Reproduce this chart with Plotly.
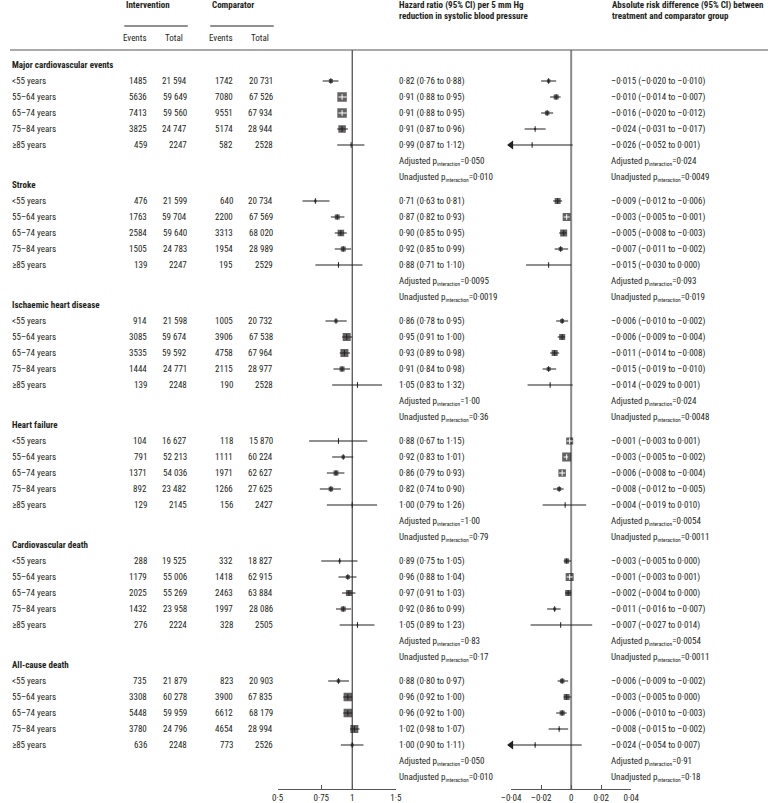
import math
import plotly.graph_objects as go

# ---- data ----
sections = ['Major cardiovascular events', 'Stroke', 'Ischaemic heart disease',
            'Heart failure', 'Cardiovascular death', 'All-cause death']
age_groups = ['&lt;55 years', '55–64 years', '65–74 years', '75–84 years', '≥85 years']

int_events = [[1485, 5636, 7413, 3825, 459], [476, 1763, 2584, 1505, 139],
              [914, 3085, 3535, 1444, 139], [104, 791, 1371, 892, 129],
              [288, 1179, 2025, 1432, 276], [735, 3308, 5448, 3780, 636]]
int_total = [[21594, 59649, 59560, 24747, 2247], [21599, 59704, 59640, 24783, 2247],
             [21598, 59674, 59592, 24771, 2248], [16627, 52213, 54036, 23482, 2145],
             [19525, 55006, 55269, 23958, 2224], [21879, 60278, 59959, 24796, 2248]]
cmp_events = [[1742, 7080, 9551, 5174, 582], [640, 2200, 3313, 1954, 195],
              [1005, 3906, 4758, 2115, 190], [118, 1111, 1971, 1266, 156],
              [332, 1418, 2463, 1997, 328], [823, 3900, 6612, 4654, 773]]
cmp_total = [[20731, 67526, 67934, 28944, 2528], [20734, 67569, 68020, 28989, 2529],
             [20732, 67538, 67964, 28977, 2528], [15870, 60224, 62627, 27625, 2427],
             [18827, 62915, 63884, 28086, 2505], [20903, 67835, 68179, 28994, 2526]]

hr = [[0.82, 0.91, 0.91, 0.91, 0.99], [0.71, 0.87, 0.90, 0.92, 0.88],
      [0.86, 0.95, 0.93, 0.91, 1.05], [0.88, 0.92, 0.86, 0.82, 1.00],
      [0.89, 0.96, 0.97, 0.92, 1.05], [0.88, 0.96, 0.96, 1.02, 1.00]]
hr_lo = [[0.76, 0.88, 0.88, 0.87, 0.87], [0.63, 0.82, 0.85, 0.85, 0.71],
         [0.78, 0.91, 0.89, 0.84, 0.83], [0.67, 0.83, 0.79, 0.74, 0.79],
         [0.75, 0.88, 0.91, 0.86, 0.89], [0.80, 0.92, 0.92, 0.98, 0.90]]
hr_hi = [[0.88, 0.95, 0.95, 0.96, 1.12], [0.81, 0.93, 0.95, 0.99, 1.10],
         [0.95, 1.00, 0.98, 0.98, 1.32], [1.15, 1.01, 0.93, 0.90, 1.26],
         [1.05, 1.04, 1.03, 0.99, 1.23], [0.97, 1.00, 1.00, 1.07, 1.11]]
hr_weight = [[4, 9.5, 9.5, 7.5, 1.5], [2.5, 5, 6.5, 5, 1.5], [3.5, 8, 8, 5, 1],
             [1, 3.5, 5, 4.5, 1], [2.5, 4, 6, 5, 1.5], [3.5, 8.5, 8.5, 8, 3]]

ard = [[-0.015, -0.010, -0.016, -0.024, -0.026], [-0.009, -0.003, -0.005, -0.007, -0.015],
       [-0.006, -0.006, -0.011, -0.015, -0.014], [-0.001, -0.003, -0.006, -0.008, -0.004],
       [-0.003, -0.001, -0.002, -0.011, -0.007], [-0.006, -0.003, -0.006, -0.008, -0.024]]
ard_lo = [[-0.020, -0.014, -0.020, -0.031, -0.052], [-0.012, -0.005, -0.008, -0.011, -0.030],
          [-0.010, -0.009, -0.014, -0.019, -0.029], [-0.003, -0.005, -0.008, -0.012, -0.019],
          [-0.005, -0.003, -0.004, -0.016, -0.027], [-0.009, -0.005, -0.010, -0.015, -0.054]]
ard_hi = [[-0.010, -0.007, -0.012, -0.017, 0.001], [-0.006, -0.001, -0.003, -0.002, 0.000],
          [-0.002, -0.004, -0.008, -0.010, 0.001], [0.001, -0.002, -0.004, -0.005, 0.010],
          [0.000, 0.001, 0.000, -0.007, 0.014], [-0.002, 0.000, -0.003, -0.002, 0.007]]
ard_weight = [[3.5, 5, 4.5, 2, 1], [6, 8, 7, 4, 1], [4, 6, 6, 4, 1],
              [7, 9, 7.5, 4, 1], [5, 8, 6, 3, 1], [4.5, 6, 5, 2, 1.5]]

hr_p_adj = ['0.050', '0.0095', '1.00', '1.00', '0.83', '0.050']
hr_p_unadj = ['0.010', '0.0019', '0.36', '0.79', '0.17', '0.010']
ard_p_adj = ['0.024', '0.093', '0.024', '0.0054', '0.0054', '0.91']
ard_p_unadj = ['0.0049', '0.019', '0.0048', '0.0011', '0.0011', '0.18']

hr_ticks = [0.5, 0.75, 1, 1.5]
ard_ticks = [-0.04, -0.02, 0, 0.02, 0.04]

# ---- layout constants (pixels) ----
W, H = 776, 803
AX_Y = 789
HR_X0, HR_X1 = 274, 395
ARD_X0, ARD_X1 = 513, 636
HR_RANGE = (0.5, 1.5)
ARD_RANGE = (-0.04, 0.04)
FONT = 'Liberation Sans Narrow, Arial Narrow, Roboto Condensed, DejaVu Sans Condensed, Lato, sans-serif'
INK = '#231f20'
FS = 9


def row_y(s, r):
    return 81 + 120 * s + 16 * r


def dot(s):
    return s.replace('.', '·')


def fnum(n):
    return f'{n:,}'.replace(',', ' ') if n >= 10000 else str(n)


def fsign(v, nd=3):
    return ('–' if v < 0 else '') + dot(f'{abs(v):.{nd}f}')


def hr_px(v):
    return HR_X0 + (math.log10(v) - math.log10(HR_RANGE[0])) * (HR_X1 - HR_X0) / math.log10(HR_RANGE[1] / HR_RANGE[0])


def ard_px(v):
    return ARD_X0 + (v - ARD_RANGE[0]) * (ARD_X1 - ARD_X0) / (ARD_RANGE[1] - ARD_RANGE[0])


def pint(label, p):
    return f'{label} p<sub><span style="font-size:5.5px">interaction</span></sub>={dot(p)}'


ann = []


def txt(x, y, s, anchor='left', size=FS):
    ann.append(dict(x=x / W, y=y, xref='paper', yref='y', text=s, showarrow=False,
                    xanchor=anchor, yanchor='middle', align=anchor,
                    font=dict(family=FONT, size=size, color=INK)))


# header
txt(117, 5, '<b>Intervention</b>')
txt(205, 5, '<b>Comparator</b>')
txt(142, 38, 'Events', 'right')
txt(168, 38, 'Total', 'center')
txt(230, 38, 'Events', 'right')
txt(256, 38, 'Total', 'center')
txt(396, 5, '<b>Hazard ratio (95% CI) per 5 mm Hg</b>')
txt(396, 16, '<b>reduction in systolic blood pressure</b>')
txt(614, 5, '<b>Absolute risk difference (95% CI) between</b>')
txt(614, 16, '<b>treatment and comparator group</b>')

shapes = [
    dict(type='line', xref='paper', yref='y', x0=117 / W, x1=182 / W, y0=26, y1=26, line=dict(color=INK, width=1)),
    dict(type='line', xref='paper', yref='y', x0=205 / W, x1=270 / W, y0=26, y1=26, line=dict(color=INK, width=1)),
    dict(type='line', xref='paper', yref='y', x0=0, x1=1, y0=50, y1=50, line=dict(color='#555', width=1)),
]

fig = go.Figure()

# reference lines
fig.add_trace(go.Scatter(x=[1, 1], y=[50, AX_Y], mode='lines', line=dict(color=INK, width=1),
                         xaxis='x', yaxis='y', hoverinfo='skip'))
fig.add_trace(go.Scatter(x=[0, 0], y=[50, AX_Y], mode='lines', line=dict(color='#8a8a8a', width=2),
                         xaxis='x2', yaxis='y', hoverinfo='skip'))


def panel(est, lo, hi, wt, rng, px, xa):
    dark_x, dark_y, white_x, white_y = [], [], [], []
    mx, my, ms, tick_col, arr_x, arr_y = [], [], [], [], [], []
    for s in range(len(sections)):
        for r in range(len(age_groups)):
            y = row_y(s, r)
            e, a, b, w = est[s][r], lo[s][r], hi[s][r], wt[s][r]
            a_c, b_c = max(a, rng[0]), min(b, rng[1])
            # CI lying wholly inside its box is drawn in white
            inside = px(a) >= px(e) - w / 2 and px(b) <= px(e) + w / 2
            if inside:
                white_x += [a_c, b_c, None]
                white_y += [y, y, None]
            else:
                dark_x += [a_c, b_c, None]
                dark_y += [y, y, None]
            mx.append(e)
            my.append(y)
            ms.append(w)
            tick_col.append('white' if inside else INK)
            if a < rng[0]:
                arr_x.append(rng[0])
                arr_y.append(y)
    fig.add_trace(go.Scatter(x=dark_x, y=dark_y, mode='lines', line=dict(color=INK, width=1.2),
                             xaxis=xa, yaxis='y', hoverinfo='skip'))
    fig.add_trace(go.Scatter(x=mx, y=my, mode='markers', xaxis=xa, yaxis='y',
                             marker=dict(symbol='square', size=ms, color=INK, line=dict(width=0))))
    fig.add_trace(go.Scatter(x=white_x, y=white_y, mode='lines', line=dict(color='white', width=1),
                             xaxis=xa, yaxis='y', hoverinfo='skip'))
    fig.add_trace(go.Scatter(x=mx, y=my, mode='markers', xaxis=xa, yaxis='y', hoverinfo='skip',
                             marker=dict(symbol='line-ns', size=4, line=dict(color=tick_col, width=1))))
    fig.add_trace(go.Scatter(x=arr_x, y=arr_y, mode='markers', xaxis=xa, yaxis='y', cliponaxis=False,
                             marker=dict(symbol='triangle-left', size=8, color=INK)))


panel(hr, hr_lo, hr_hi, hr_weight, HR_RANGE, hr_px, 'x')
panel(ard, ard_lo, ard_hi, ard_weight, ARD_RANGE, ard_px, 'x2')

# table text
for s, name in enumerate(sections):
    y0 = row_y(s, 0)
    txt(0, y0 - 16, f'<b>{name}</b>')
    for r, grp in enumerate(age_groups):
        y = row_y(s, r)
        txt(0, y, grp)
        txt(142, y, fnum(int_events[s][r]), 'right')
        txt(183, y, fnum(int_total[s][r]), 'right')
        txt(230, y, fnum(cmp_events[s][r]), 'right')
        txt(271, y, fnum(cmp_total[s][r]), 'right')
        txt(396, y, dot(f'{hr[s][r]:.2f} ({hr_lo[s][r]:.2f} to {hr_hi[s][r]:.2f})'))
        txt(613, y, f'{fsign(ard[s][r])} ({fsign(ard_lo[s][r])} to {fsign(ard_hi[s][r])})')
    txt(396, row_y(s, 5), pint('Adjusted', hr_p_adj[s]))
    txt(396, row_y(s, 6), pint('Unadjusted', hr_p_unadj[s]))
    txt(613, row_y(s, 5), pint('Adjusted', ard_p_adj[s]))
    txt(613, row_y(s, 6), pint('Unadjusted', ard_p_unadj[s]))

axis_common = dict(showgrid=False, zeroline=False, showline=True, linecolor='#555', linewidth=1,
                   ticks='inside', ticklen=4, tickcolor='#555', anchor='y', fixedrange=True,
                   tickfont=dict(family=FONT, size=FS, color=INK))

fig.update_layout(
    width=W, height=H, margin=dict(l=0, r=0, t=0, b=0),
    paper_bgcolor='white', plot_bgcolor='white', showlegend=False,
    xaxis=dict(type='log', range=[math.log10(HR_RANGE[0]), math.log10(HR_RANGE[1])],
               domain=[HR_X0 / W, HR_X1 / W], tickvals=hr_ticks,
               ticktext=[dot(str(t)) for t in hr_ticks], **axis_common),
    xaxis2=dict(range=list(ARD_RANGE), domain=[ARD_X0 / W, ARD_X1 / W], tickvals=ard_ticks,
                ticktext=[fsign(t, 2) if t != 0 else '0' for t in ard_ticks], **axis_common),
    yaxis=dict(range=[AX_Y, 0], domain=[(H - AX_Y) / H, 1], visible=False, fixedrange=True),
    annotations=ann, shapes=shapes,
)

# the page's default body margin would push the 776x803 figure off the window
fig.write_html('out.html', config={'displayModeBar': False},
               post_script="document.body.style.margin='0';")
